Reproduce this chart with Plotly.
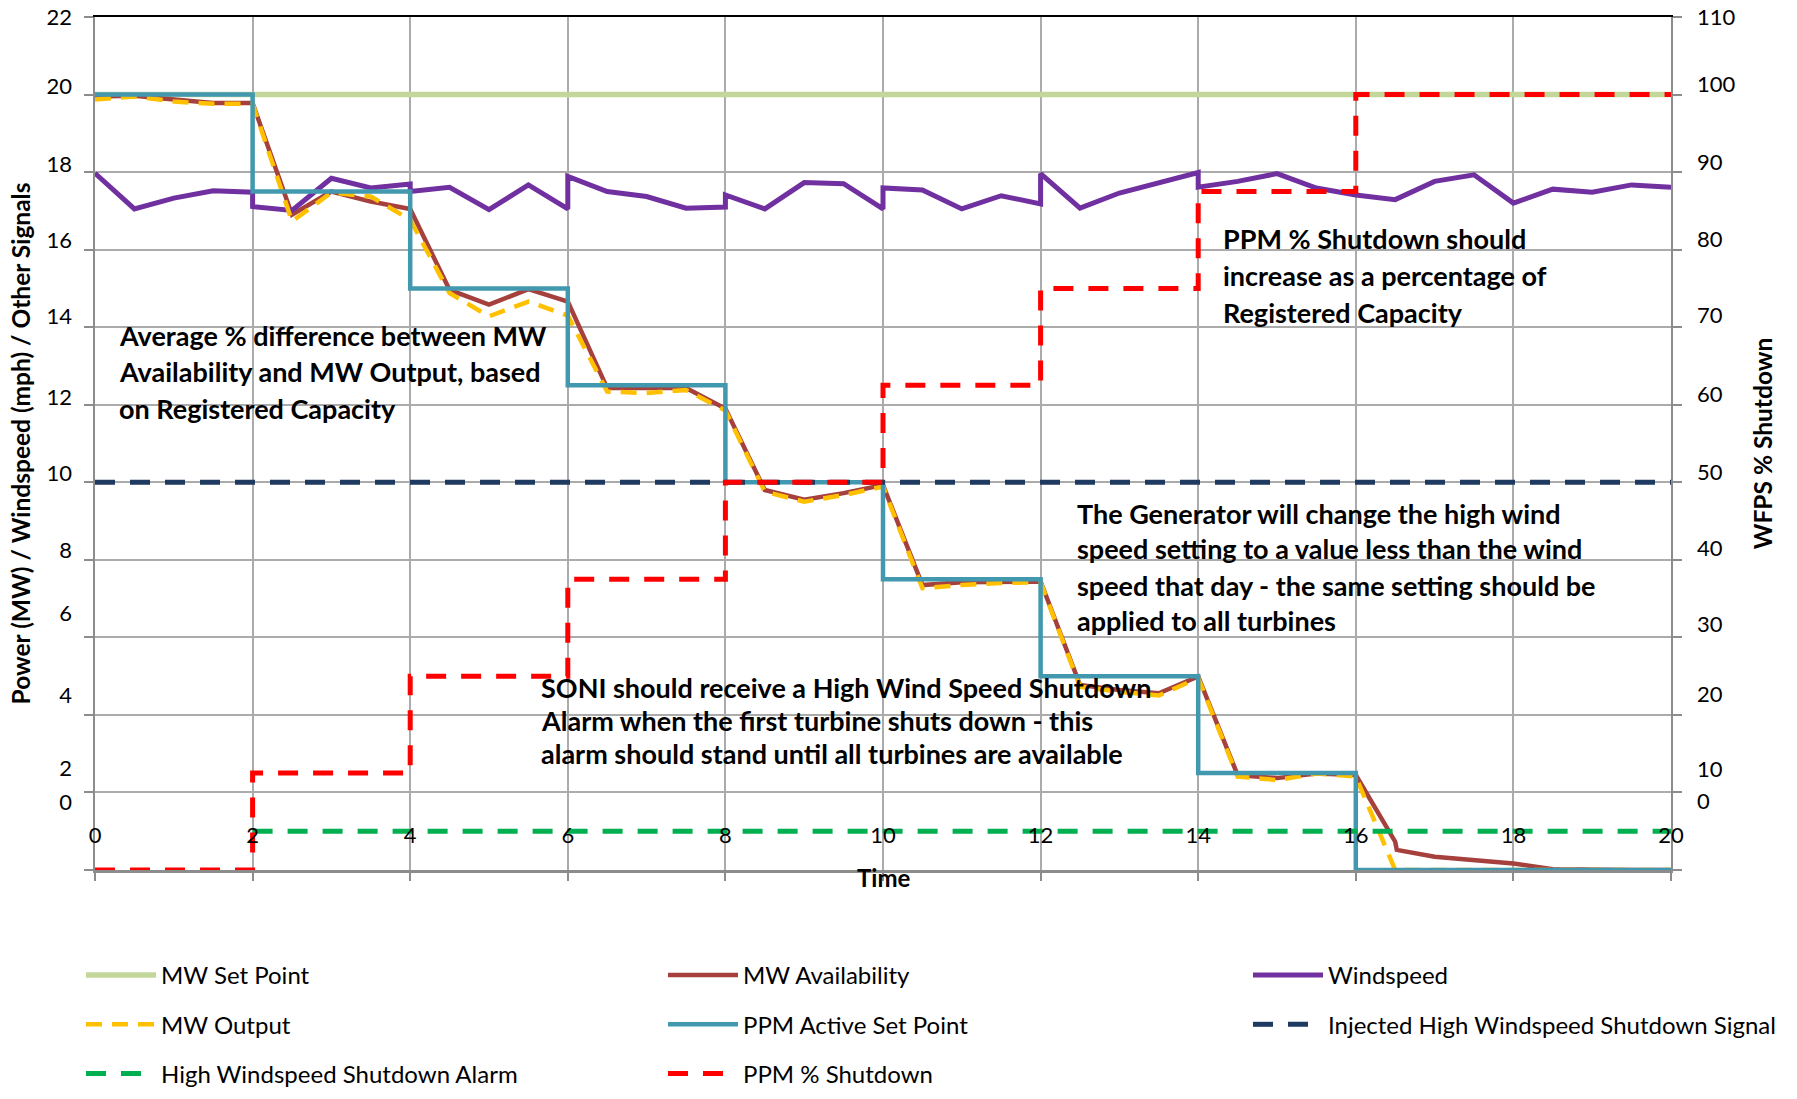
import plotly.graph_objects as go

# ---------------- data ----------------
SET_X = [0, 20]
SET_Y = [20, 20]

AVAIL_X = [0, 0.5, 1, 1.5, 2, 2.5, 3, 3.5, 4, 4.5, 5, 5.5, 6, 6.5, 7, 7.5, 8, 8.5, 9, 9.5,
           10, 10.5, 11, 11.5, 12, 12.5, 13, 13.5, 14, 14.5, 15, 15.5, 16, 16.5, 16.52,
           17, 17.5, 18, 18.5, 19, 19.5, 20]
AVAIL_Y = [19.95, 19.97, 19.87, 19.78, 19.78, 16.9, 17.5, 17.24, 17.05, 14.96, 14.58, 14.98,
           14.66, 12.43, 12.43, 12.43, 11.9, 9.8, 9.55, 9.72, 9.93, 7.35, 7.42, 7.42, 7.44,
           4.77, 4.64, 4.56, 4.99, 2.45, 2.37, 2.49, 2.45, 0.73, 0.52, 0.34, 0.26, 0.17,
           0.02, 0, 0, 0]

WIND_X = [0, 0.5, 1, 1.5, 2, 2, 2.5, 3, 3.5, 4, 4, 4.5, 5, 5.5, 6, 6, 6.5, 7, 7.5, 8, 8,
          8.5, 9, 9.5, 10, 10, 10.5, 11, 11.5, 12, 12, 12.5, 13, 13.5, 14, 14, 14.5, 15,
          15.5, 16, 16.5, 17, 17.5, 18, 18.5, 19, 19.5, 20]
WIND_Y = [17.97, 17.05, 17.33, 17.52, 17.48, 17.11, 17.01, 17.84, 17.59, 17.69, 17.5, 17.61,
          17.03, 17.67, 17.05, 17.89, 17.5, 17.37, 17.07, 17.1, 17.41, 17.05, 17.73, 17.7,
          17.05, 17.59, 17.54, 17.05, 17.39, 17.18, 17.96, 17.07, 17.46, 17.72, 17.99, 17.61,
          17.76, 17.96, 17.59, 17.41, 17.29, 17.76, 17.93, 17.2, 17.56, 17.48, 17.67, 17.61]

OUT_X = [0, 0.5, 1, 1.5, 2, 2.5, 3, 3.5, 4, 4.5, 5, 5.5, 6, 6.5, 7, 7.5, 8, 8.5, 9, 9.5,
         10, 10.5, 11, 11.5, 12, 12.5, 13, 13.5, 14, 14.5, 15, 15.5, 16, 16.5, 17, 17.5,
         18, 18.5, 19, 19.5, 20]
OUT_Y = [19.87, 19.95, 19.82, 19.76, 19.76, 16.73, 17.47, 17.37, 16.77, 14.88, 14.28, 14.66,
         14.3, 12.34, 12.3, 12.38, 11.85, 9.76, 9.5, 9.67, 9.89, 7.27, 7.35, 7.4, 7.42,
         4.73, 4.6, 4.5, 4.95, 2.41, 2.32, 2.49, 2.41, 0, 0, 0, 0, 0, 0, 0, 0]

STEP_X = [0, 2, 4, 6, 8, 10, 12, 14, 16, 20]
PPM_SET_Y = [20, 17.5, 15, 12.5, 10, 7.5, 5, 2.5, 0, 0]
PPM_SHUT_Y = [0, 12.5, 25, 37.5, 50, 62.5, 75, 87.5, 100, 100]

INJ_X = [0, 20]
INJ_Y = [10, 10]
ALARM_X = [2, 20]
ALARM_Y = [1, 1]

LEFT_TICK_TEXT = ["22", "20", "18", "16", "14", "12", "10", "8", "6", "4", "2", "0"]
RIGHT_TICK_TEXT = ["110", "100", "90", "80", "70", "60", "50", "40", "30", "20", "10", "0"]
# where the (offset) labels sit, in axis units
LEFT_LABEL_POS = [22.0, 20.2, 18.2, 16.25, 14.27, 12.2, 10.24, 8.25, 6.63, 4.5, 2.63, 1.75]
RIGHT_LABEL_POS = [110.0, 101.3, 91.3, 81.3, 71.5, 61.4, 51.3, 41.5, 31.7, 22.6, 13.0, 8.8]

# ---------------- layout geometry ----------------
W, H = 1797, 1099
L, R, T, B = 95, 1671, 17, 870


def px_x(p):
    return (p - L) / (R - L)


def px_y(p):
    return (B - p) / (B - T)


def val_y(p):
    return (B - p) / ((B - T) / 22.0)


FONT = "Lato"
GRID = "#ABABAB"
AXIS = "#8C8C8C"

fig = go.Figure()

fig.add_trace(go.Scatter(x=SET_X, y=SET_Y, mode="lines", name="MW Set Point",
                         line=dict(color="#C4D79B", width=5.5),
                         legend="legend", legendgroup="a1"))
fig.add_trace(go.Scatter(x=AVAIL_X, y=AVAIL_Y, mode="lines", name="MW Availability",
                         line=dict(color="#A5403D", width=4.5),
                         legend="legend2", legendgroup="b1"))
fig.add_trace(go.Scatter(x=WIND_X, y=WIND_Y, mode="lines", name="Windspeed",
                         line=dict(color="#7030A0", width=5),
                         legend="legend3", legendgroup="c1"))
fig.add_trace(go.Scatter(x=OUT_X, y=OUT_Y, mode="lines", name="MW Output",
                         line=dict(color="#FFC000", width=4.5, dash="16px,10px"),
                         legend="legend", legendgroup="a2"))
fig.add_trace(go.Scatter(x=STEP_X, y=PPM_SET_Y, mode="lines", name="PPM Active Set Point",
                         line=dict(color="#4198AF", width=4.5, shape="hv"),
                         legend="legend2", legendgroup="b2"))
fig.add_trace(go.Scatter(x=INJ_X, y=INJ_Y, mode="lines",
                         name="Injected High Windspeed Shutdown Signal",
                         line=dict(color="#1F3A60", width=5, dash="20px,15px"),
                         legend="legend3", legendgroup="c2"))
fig.add_trace(go.Scatter(x=ALARM_X, y=ALARM_Y, mode="lines",
                         name="High Windspeed Shutdown Alarm",
                         line=dict(color="#00B050", width=5, dash="20px,15px"),
                         legend="legend", legendgroup="a3"))
fig.add_trace(go.Scatter(x=STEP_X, y=PPM_SHUT_Y, mode="lines", name="PPM % Shutdown",
                         yaxis="y2",
                         line=dict(color="#FF0000", width=5, dash="20px,15px", shape="hv"),
                         legend="legend2", legendgroup="b3"))
# helper traces so the label-only axes are drawn
fig.add_trace(go.Scatter(x=[0], y=[0], xaxis="x2", yaxis="y3", mode="markers",
                         marker=dict(opacity=0), showlegend=False, hoverinfo="skip"))
fig.add_trace(go.Scatter(x=[0], y=[0], xaxis="x", yaxis="y4", mode="markers",
                         marker=dict(opacity=0), showlegend=False, hoverinfo="skip"))

tickfont = dict(family=FONT, size=22, color="#000000")
titlefont = dict(family=FONT, size=24.5, color="#000000")

fig.update_layout(
    width=W, height=H,
    margin=dict(l=L, r=W - R, t=T, b=H - B, autoexpand=False),
    paper_bgcolor="white", plot_bgcolor="white",
    font=dict(family=FONT, color="#000000"),
    xaxis=dict(range=[0, 20], tick0=0, dtick=2, showgrid=True, gridcolor=GRID, gridwidth=1.5,
               zeroline=False, showline=True, linecolor=AXIS, linewidth=3,
               ticks="outside", ticklen=8, tickcolor=AXIS, tickwidth=1.5,
               ticklabelposition="inside", ticklabeloverflow="allow",
               ticklabelstandoff=24, tickfont=tickfont, automargin=False),
    xaxis2=dict(range=[0, 20], overlaying="x", side="top", anchor="y", showgrid=False,
                zeroline=False, showline=True, linecolor="#000000", linewidth=1.5,
                showticklabels=False, ticks="", automargin=False),
    yaxis=dict(range=[0, 22], tick0=0, dtick=2, showgrid=True, gridcolor=GRID, gridwidth=1.5,
               zeroline=False, showline=True, linecolor=AXIS, linewidth=2,
               ticks="outside", ticklen=9, tickcolor=AXIS, tickwidth=1.5,
               showticklabels=False, automargin=False),
    yaxis2=dict(range=[0, 110], overlaying="y", side="right", anchor="x", tick0=0, dtick=10,
                showgrid=False, zeroline=False, showline=True, linecolor=AXIS, linewidth=2,
                ticks="outside", ticklen=9, tickcolor=AXIS, tickwidth=1.5,
                showticklabels=False, automargin=False),
    yaxis3=dict(range=[0, 22], overlaying="y", side="left", anchor="x", showgrid=False,
                zeroline=False, showline=False, ticks="", automargin=False,
                tickmode="array", tickvals=LEFT_LABEL_POS, ticktext=LEFT_TICK_TEXT,
                ticklabelstandoff=22, tickfont=tickfont,
                title=dict(text="<b>Power (MW) / Windspeed (mph) / Other Signals</b>",
                           font=titlefont, standoff=8)),
    yaxis4=dict(range=[0, 110], overlaying="y", side="right", anchor="x", showgrid=False,
                zeroline=False, showline=False, ticks="", automargin=False,
                tickmode="array", tickvals=RIGHT_LABEL_POS, ticktext=RIGHT_TICK_TEXT,
                ticklabelstandoff=25, tickfont=tickfont,
                title=dict(text="<b>WFPS % Shutdown</b>", font=titlefont, standoff=20)),
    showlegend=True,
)

legend_common = dict(orientation="v", xanchor="left", yanchor="top", tracegroupgap=15,
                     itemwidth=70, bgcolor="rgba(0,0,0,0)",
                     font=dict(family=FONT, size=24, color="#000000"))
fig.update_layout(
    legend=dict(x=px_x(81), y=px_y(953), **legend_common),
    legend2=dict(x=px_x(663), y=px_y(953), **legend_common),
    legend3=dict(x=px_x(1248), y=px_y(953), **legend_common),
)

# text notes: (left x in data units, [line centre px], lines)
note_blocks = [
    (0.28, [335, 371, 408], ["Average % difference between MW",
                              "Availability and MW Output, based",
                              "on Registered Capacity"]),
    (14.29, [238, 275, 312], ["PPM % Shutdown should",
                               "increase as a percentage of",
                               "Registered Capacity"]),
    (12.44, [513, 548, 585, 620], ["The Generator will change the high wind",
                                    "speed setting to a value less than the wind",
                                    "speed that day - the same setting should be",
                                    "applied to all turbines"]),
    (5.63, [687, 720, 753], ["SONI should receive a High Wind Speed Shutdown",
                              "Alarm when the first turbine shuts down - this",
                              "alarm should stand until all turbines are available"]),
]
for xl, ys, lines in note_blocks:
    for yp, line in zip(ys, lines):
        fig.add_annotation(x=xl, y=val_y(yp), xref="x", yref="y", text="<b>%s</b>" % line,
                           showarrow=False, xanchor="left", yanchor="middle",
                           font=dict(family=FONT, size=27, color="#000000"))

fig.add_annotation(x=10, y=px_y(877), xref="x", yref="paper", text="<b>Time</b>",
                   showarrow=False, xanchor="center", yanchor="middle",
                   font=dict(family=FONT, size=24, color="#000000"))

fig.write_html("out.html", config={"displayModeBar": False},
               post_script="document.body.style.margin='0';document.body.style.overflow='hidden';")
